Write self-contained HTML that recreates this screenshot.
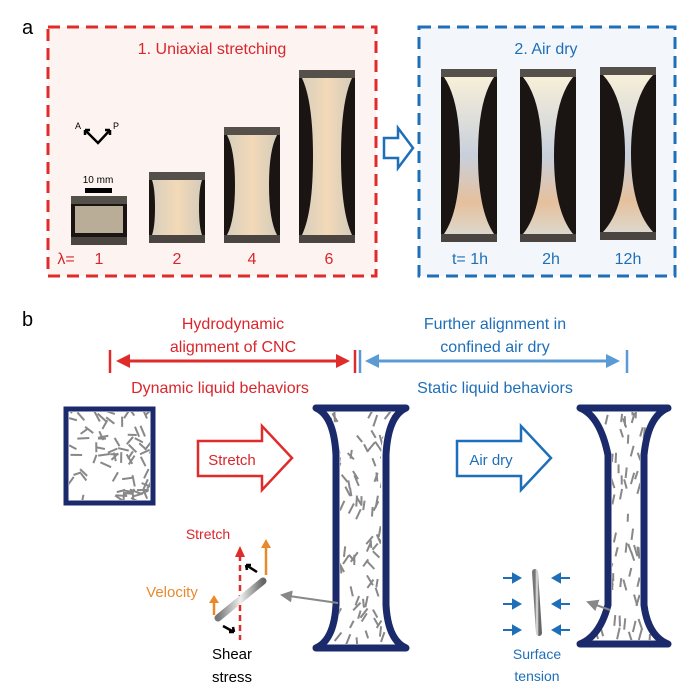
<!DOCTYPE html>
<html><head><meta charset="utf-8"><style>
html,body{margin:0;padding:0;background:#fff;width:700px;height:699px;overflow:hidden}
svg{display:block}
text{font-family:"Liberation Sans",sans-serif}
</style></head><body>
<svg id="s" width="700" height="699" viewBox="0 0 700 699" xmlns="http://www.w3.org/2000/svg">
<defs>
<linearGradient id="spec" x1="0" x2="1"><stop offset="0" stop-color="#d8cfbd"/><stop offset="0.5" stop-color="#f3d9b8"/><stop offset="1" stop-color="#d5ccba"/></linearGradient>
<linearGradient id="spec2" x1="0" y1="0" x2="0" y2="1"><stop offset="0" stop-color="#f7efd8"/><stop offset="0.5" stop-color="#c8d0dc"/><stop offset="0.8" stop-color="#e6c09c"/><stop offset="1" stop-color="#dcd8cc"/></linearGradient>
<linearGradient id="rod" x1="0" x2="1"><stop offset="0" stop-color="#777"/><stop offset="0.5" stop-color="#eee"/><stop offset="1" stop-color="#666"/></linearGradient>
<clipPath id="c1"><rect x="69" y="412" width="81" height="88"/></clipPath>
<clipPath id="c2"><path d="M322,412 Q337,420 340,455 L340,605 Q337,638 322,644 L398,644 Q383,638 381,605 L381,455 Q383,420 398,412Z"/></clipPath>
<clipPath id="c3"><path d="M588,412 Q606,420 612,455 L612,605 Q606,632 588,640 L662,640 Q644,632 640,605 L640,455 Q644,420 662,412Z"/></clipPath>
<marker id="ar" markerWidth="6" markerHeight="6" refX="5" refY="3" orient="auto"><path d="M0,0L6,3L0,6Z" fill="#888"/></marker>
</defs>
<!-- panel a -->
<text x="22" y="34" font-size="20">a</text>
<rect x="48" y="27" width="328" height="249" fill="#fdf4f1" stroke="#e02b2b" stroke-width="3" stroke-dasharray="12,7"/>
<rect x="419" y="27" width="256" height="249" fill="#f3f7fb" stroke="#1f6fb8" stroke-width="3" stroke-dasharray="12,7"/>
<text x="212" y="54" font-size="16" fill="#d9262c" text-anchor="middle">1. Uniaxial stretching</text>
<text x="546" y="54" font-size="16" fill="#1f6fb8" text-anchor="middle">2. Air dry</text>
<g id="photos"></g>
<text x="98" y="183" font-size="10" text-anchor="middle">10 mm</text>
<rect x="85" y="188" width="27" height="5" fill="#000"/>
<text x="75" y="129" font-size="9">A</text><text x="113" y="129" font-size="9">P</text>
<path d="M85,130 L98,143 L110,130 M85,130 l0,5 M85,130 l5,0 M110,130 l-5,0 M110,130 l0,5" stroke="#000" stroke-width="2.5" fill="none"/>
<g font-size="16" fill="#d9262c" text-anchor="middle"><text x="66" y="264">λ=</text><text x="99" y="264">1</text><text x="177" y="264">2</text><text x="252" y="264">4</text><text x="329" y="264">6</text></g>
<g font-size="16" fill="#1f6fb8" text-anchor="middle"><text x="470" y="264">t= 1h</text><text x="551" y="264">2h</text><text x="628" y="264">12h</text></g>
<path d="M384,138 L398,138 L398,128 L413,148 L398,168 L398,158 L384,158Z" fill="#fff" stroke="#1f6fb8" stroke-width="2.5"/>
<!-- panel b -->
<text x="22" y="326" font-size="20">b</text>
<path d="M198,441 L262,441 L262,426 L292,458 L262,490 L262,476 L198,476Z" fill="#fff" stroke="#e02b2b" stroke-width="2.5"/>
<path d="M457,441 L521,441 L521,426 L551,458 L521,490 L521,476 L457,476Z" fill="#fff" stroke="#1f6fb8" stroke-width="2.5"/>
<g font-size="16" fill="#d9262c" text-anchor="middle"><text x="233" y="329">Hydrodynamic</text><text x="233" y="352">alignment of CNC</text><text x="220" y="393">Dynamic liquid behaviors</text><text x="232" y="465" font-size="15">Stretch</text><text x="208" y="539" font-size="14">Stretch</text></g>
<g font-size="16" fill="#1f6fb8" text-anchor="middle"><text x="495" y="329">Further alignment in</text><text x="495" y="352">confined air dry</text><text x="495" y="393">Static liquid behaviors</text><text x="491" y="465" font-size="15">Air dry</text><text x="537" y="659" font-size="14">Surface</text><text x="537" y="681" font-size="14">tension</text></g>
<line x1="110" y1="350" x2="110" y2="373" stroke="#e02b2b" stroke-width="2.5"/>
<line x1="355" y1="350" x2="355" y2="373" stroke="#e02b2b" stroke-width="2.5"/>
<line x1="360" y1="350" x2="360" y2="373" stroke="#5b9bd5" stroke-width="2.5"/>
<line x1="627" y1="350" x2="627" y2="373" stroke="#5b9bd5" stroke-width="2.5"/>
<line x1="125" y1="361" x2="340" y2="361" stroke="#e02b2b" stroke-width="3"/>
<path d="M116,361 L130,354 L130,368Z M350,361 L336,354 L336,368Z" fill="#e02b2b"/>
<line x1="375" y1="361" x2="610" y2="361" stroke="#5b9bd5" stroke-width="3"/>
<path d="M365,361 L379,354 L379,368Z M620,361 L606,354 L606,368Z" fill="#5b9bd5"/>
<rect x="66" y="409" width="87" height="94" fill="#fff" stroke="#1b2a6b" stroke-width="5"/>
<g id="rods"></g>
<path d="M316,408 L406,408 Q388,416 386,455 L386,605 Q388,640 406,648 L316,648 Q334,640 336,605 L336,455 Q334,416 316,408Z" fill="none" stroke="#1b2a6b" stroke-width="7" stroke-linejoin="round"/>
<path d="M580,408 L668,408 Q648,416 644,455 L644,605 Q648,636 668,644 L580,644 Q600,636 608,605 L608,455 Q600,416 580,408Z" fill="none" stroke="#1b2a6b" stroke-width="7" stroke-linejoin="round"/>
<!-- detail left -->
<line x1="240" y1="555" x2="240" y2="640" stroke="#e02b2b" stroke-width="2.5" stroke-dasharray="6,4"/>
<path d="M240,546 L235,557 L245,557Z" fill="#e02b2b"/>
<line x1="266" y1="575" x2="266" y2="545" stroke="#e88a2c" stroke-width="2.5"/><path d="M266,539 L261,548 L271,548Z" fill="#e88a2c"/>
<line x1="214" y1="615" x2="214" y2="600" stroke="#e88a2c" stroke-width="2.5"/><path d="M214,595 L209,603 L219,603Z" fill="#e88a2c"/>
<text x="172" y="597" font-size="15" fill="#e88a2c" text-anchor="middle">Velocity</text>
<line x1="218" y1="618" x2="263" y2="581" stroke="url(#rod)" stroke-width="7" stroke-linecap="round"/>
<path d="M257,572 L246,565 M246,565 l5,0 M246,565 l1,5 M223,626 L234,632 M234,632 l-5,0 M234,632 l-1,-5" stroke="#000" stroke-width="2.5" fill="none"/>
<line x1="338" y1="603" x2="282" y2="595" stroke="#888" stroke-width="2" marker-end="url(#ar)"/>
<text x="232" y="659" font-size="15" text-anchor="middle">Shear</text><text x="232" y="682" font-size="15" text-anchor="middle">stress</text>
<!-- detail right -->
<line x1="535" y1="572" x2="539" y2="633" stroke="url(#rod)" stroke-width="6" stroke-linecap="round"/>
<g stroke="#1f6fb8" stroke-width="2" fill="#1f6fb8">
<line x1="503" y1="578" x2="516" y2="578"/><path d="M520,578 L513,574 L513,582Z"/>
<line x1="503" y1="604" x2="516" y2="604"/><path d="M520,604 L513,600 L513,608Z"/>
<line x1="503" y1="630" x2="516" y2="630"/><path d="M520,630 L513,626 L513,634Z"/>
<line x1="570" y1="578" x2="557" y2="578"/><path d="M553,578 L560,574 L560,582Z"/>
<line x1="570" y1="604" x2="557" y2="604"/><path d="M553,604 L560,600 L560,608Z"/>
<line x1="570" y1="630" x2="557" y2="630"/><path d="M553,630 L560,626 L560,634Z"/>
</g>
<line x1="610" y1="610" x2="588" y2="602" stroke="#888" stroke-width="2" marker-end="url(#ar)"/>
</svg>
<script>
var NS="http://www.w3.org/2000/svg";
var seed=7;function r(){seed=(seed*16807)%2147483647;return seed/2147483647;}
function el(p,t,a){var e=document.createElementNS(NS,t);for(var k in a)e.setAttribute(k,a[k]);p.appendChild(e);return e;}
var ph=document.getElementById("photos");
var P=[[71,196,56,49,0],[149,172,56,71,1],[224,127,56,116,2],[299,70,56,173,3],[441,69,56,173,4],[520,69,56,173,5],[600,67,56,173,6]];
P.forEach(function(p){var x=p[0],y=p[1],w=p[2],h=p[3],k=p[4];
el(ph,"rect",{x:x,y:y,width:w,height:h,fill:"#1a1512"});
el(ph,"rect",{x:x,y:y,width:w,height:8,fill:"#55504a"});
el(ph,"rect",{x:x,y:y+h-8,width:w,height:8,fill:"#4a4540"});
if(k==0){el(ph,"rect",{x:x+4,y:y+10,width:w-8,height:h-22,fill:"#b9ad98"});return;}
var half=[0,22,17,14,9,6,3][k];var cx=x+w/2,t=y+8,b=y+h-8;
var d="M"+(x+3)+","+t+" Q"+(cx-half)+","+(t+(b-t)*0.15)+" "+(cx-half)+","+((t+b)/2)+" Q"+(cx-half)+","+(b-(b-t)*0.15)+" "+(x+3)+","+b+" L"+(x+w-3)+","+b+" Q"+(cx+half)+","+(b-(b-t)*0.15)+" "+(cx+half)+","+((t+b)/2)+" Q"+(cx+half)+","+(t+(b-t)*0.15)+" "+(x+w-3)+","+t+"Z";
el(ph,"path",{d:d,fill:k<4?"url(#spec)":"url(#spec2)"});});
var g=document.getElementById("rods");
function fill(clip,x0,y0,w,h,n,align){var gg=el(g,"g",{"clip-path":"url(#"+clip+")",stroke:"#888","stroke-width":"2"});
for(var i=0;i<n;i++){var x=x0+r()*w,y=y0+r()*h;var a=align?(Math.PI/2+(r()-0.5)*align):r()*Math.PI;var L=4+r()*2;
el(gg,"line",{x1:x-Math.cos(a)*L,y1:y-Math.sin(a)*L,x2:x+Math.cos(a)*L,y2:y+Math.sin(a)*L});}}
fill("c1",66,409,87,94,75,0);
fill("c2",318,410,84,236,140,1.6);
fill("c3",585,410,80,232,130,0.7);
</script>
</body></html>
